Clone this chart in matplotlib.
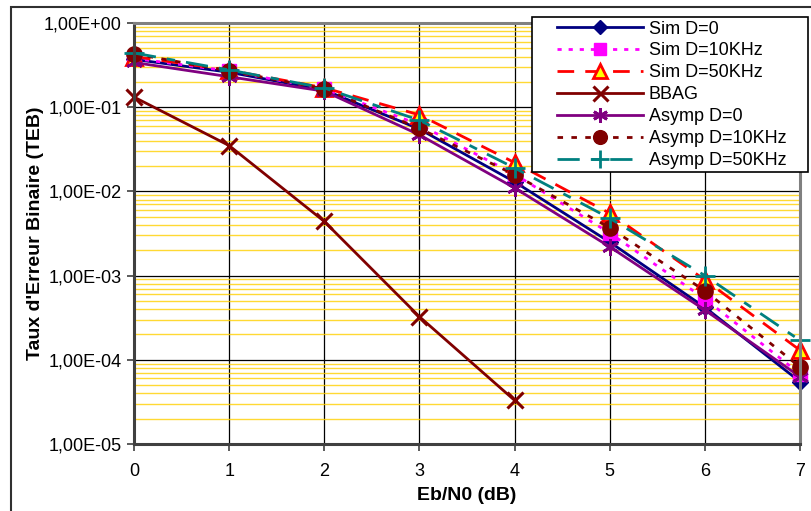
import matplotlib
matplotlib.use('Agg')
import matplotlib.pyplot as plt
from matplotlib.patches import Rectangle
from matplotlib.ticker import FixedLocator, FuncFormatter, LogLocator, NullFormatter

plt.rcParams['font.family'] = ['Liberation Sans', 'DejaVu Sans']

ebn0 = [0, 1, 2, 3, 4, 5, 6, 7]
bbag_x = [0, 1, 2, 3, 4]

sim_d0 = [0.37, 0.26, 0.16, 0.055, 0.013, 2.5e-3, 4.2e-4, 5.5e-5]
sim_d10 = [0.38, 0.27, 0.165, 0.062, 0.016, 3.2e-3, 5.3e-4, 6.8e-5]
sim_d50 = [0.40, 0.275, 0.17, 0.081, 0.022, 5.5e-3, 8.9e-4, 1.3e-4]
bbag = [0.132, 0.035, 4.4e-3, 3.25e-4, 3.3e-5]
asymp_d0 = [0.34, 0.23, 0.155, 0.047, 0.011, 2.2e-3, 3.9e-4, 6.3e-5]
asymp_d10 = [0.43, 0.27, 0.165, 0.056, 0.0158, 3.7e-3, 6.6e-4, 8.2e-5]
asymp_d50 = [0.44, 0.277, 0.169, 0.070, 0.019, 4.8e-3, 1.0e-3, 1.7e-4]

yticks = [1e0, 1e-1, 1e-2, 1e-3, 1e-4, 1e-5]

fig = plt.figure(figsize=(8.11, 5.11), dpi=100)
ax = fig.add_axes([134 / 811, 1 - 444 / 511, 666 / 811, 421 / 511])

ax.set_yscale('log')
ax.set_xlim(0, 7)
ax.set_ylim(1e-5, 1e0)

# grille
ax.yaxis.set_major_locator(FixedLocator(yticks))
ax.yaxis.set_minor_locator(LogLocator(base=10, subs=range(2, 10)))
ax.yaxis.set_minor_formatter(NullFormatter())
ax.yaxis.set_major_formatter(FuncFormatter(lambda v, p: f'{v:.2E}'.replace('.', ',')))
ax.set_xticks(ebn0)
ax.grid(which='minor', axis='y', color='#FFD000', lw=1.0, alpha=0.8)
ax.grid(which='major', axis='both', color='black', lw=0.9)
ax.set_axisbelow(True)
ax.tick_params(which='minor', left=False)
ax.tick_params(which='major', direction='out', length=5, width=1.2, color='#404040',
               labelsize=13, pad=4)
ax.tick_params(axis='x', pad=9)
for s in ax.spines.values():
    s.set_color('#808080')
    s.set_linewidth(2.2)
ax.spines['left'].set_color('#404040')
ax.spines['bottom'].set_color('#404040')

ax.plot(ebn0, sim_d0, color='#000080', lw=2, ls='-', marker='D', ms=8,
        mfc='#000080', mec='#000080', label='Sim D=0', clip_on=False)
ax.plot(ebn0, sim_d10, color='#FF00FF', lw=2, ls=(0, (1.5, 2.5)), marker='s', ms=10,
        mfc='#FF00FF', mec='#FF00FF', label='Sim D=10KHz', clip_on=False)
ax.plot(ebn0, sim_d50, color='#FF0000', lw=2, ls=(0, (6, 4)), marker='^', ms=11,
        mfc='#FFFF00', mec='#FF0000', mew=2, label='Sim D=50KHz', clip_on=False)
ax.plot(bbag_x, bbag, color='#800000', lw=2, ls='-', marker='x', ms=12, mew=2.2,
        label='BBAG', clip_on=False)
ax.plot(ebn0, asymp_d0, color='#800080', lw=2, ls='-', marker=(6, 2, 0), ms=12, mew=2,
        label='Asymp D=0', clip_on=False)
ax.plot(ebn0, asymp_d10, color='#800000', lw=2, ls=(0, (2, 3)), marker='o', ms=11,
        mfc='#800000', mec='#800000', label='Asymp D=10KHz', clip_on=False)
ax.plot(ebn0, asymp_d50, color='#008080', lw=2, ls=(0, (8, 4, 3, 4)), marker='+', ms=14,
        mew=2, label='Asymp D=50KHz', clip_on=False)

ax.set_xlabel('Eb/N0 (dB)', fontsize=14, fontweight='bold', labelpad=5)
ax.set_ylabel("Taux d'Erreur Binaire (TEB)", fontsize=14, fontweight='bold', labelpad=0)

# legende : cadre dessine a part (marge gauche plus large, comme Excel)
fig.patches.append(Rectangle((532 / 811, 1 - 172 / 511), 276 / 811, 155 / 511,
                             transform=fig.transFigure, facecolor='white',
                             edgecolor='black', lw=1.2, zorder=4))
leg = fig.legend(loc='upper left', bbox_to_anchor=(553 / 811, 1 - 17 / 511),
                 fontsize=13, frameon=False, handlelength=4.8, handletextpad=0.3,
                 labelspacing=0.27, borderpad=0.2, borderaxespad=0, markerscale=0.9)
leg.set_zorder(5)

# cadre exterieur
fig.patches.append(Rectangle((11 / 811, -0.01), 1.0, 1 - 7 / 511 + 0.01,
                             transform=fig.transFigure, fill=False,
                             edgecolor='#303030', lw=1.5))

fig.savefig('out.png', dpi=100)
